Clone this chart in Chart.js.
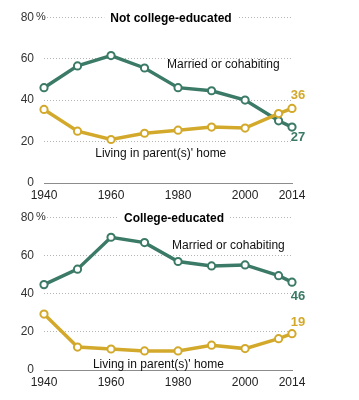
<!DOCTYPE html>
<html>
<head>
<meta charset="utf-8">
<script src="https://cdn.jsdelivr.net/npm/chart.js@4/dist/chart.umd.min.js"></script>
<style>
  html, body { margin: 0; padding: 0; background: #fff; }
  .wrap { width: 359px; height: 400px; position: relative; }
  .box { width: 359px; position: absolute; left: 0; }
  #box-top { top: 0; height: 206px; z-index: 2; }
  #box-bottom { top: 200px; height: 200px; z-index: 1; }
</style>
</head>
<body>
<div class="wrap">
  <div class="box" id="box-top"><canvas id="chart-top"></canvas></div>
  <div class="box" id="box-bottom"><canvas id="chart-bottom"></canvas></div>
</div>
<script>
// years and values
const years = [1940, 1950, 1960, 1970, 1980, 1990, 2000, 2010, 2014];
const xTicks = [1940, 1960, 1980, 2000, 2014];
const yTicks = [0, 20, 40, 60, 80];

const noCollegeMarried = [46, 56.5, 61.5, 55.5, 46, 44.5, 40, 30, 27];
const noCollegeParents = [35.5, 25, 21, 24, 25.5, 27, 26.5, 33.5, 36];
const collegeMarried = [44.7, 52.8, 69.5, 66.7, 56.8, 54.5, 55, 49.4, 46];
const collegeParents = [29.3, 12, 11, 10, 10, 13, 11.2, 16.4, 19];

const GREEN = '#3b7a66';
const GOLD = '#d3a92c';
const FONT = '"Liberation Sans", Arial, sans-serif';

function pts(vals) {
    return years.map((y, i) => ({ x: y, y: vals[i] }));
}

function serie(vals, color) {
    return {
        data: pts(vals),
        borderColor: color,
        borderWidth: 3.5,
        pointRadius: 3.6,
        pointBorderWidth: 2,
        pointBackgroundColor: '#fff',
        pointBorderColor: color,
        tension: 0,
        clip: false
    };
}

// draws title, line labels, end values and the % after 80
const textos = {
    id: 'textos',
    afterDraw(chart, args, opts) {
        const ctx = chart.ctx;
        const xs = chart.scales.x;
        const ys = chart.scales.y;
        ctx.save();
        ctx.textBaseline = 'middle';

        // titulo con fondo blanco sobre la linea de 80
        ctx.font = 'bold 12px ' + FONT;
        const yTit = ys.getPixelForValue(80);
        const w = ctx.measureText(opts.titulo).width;
        const cx = opts.tituloX;
        ctx.fillStyle = '#fff';
        ctx.fillRect(cx - w / 2 - 6, yTit - 3, w + 12, 6);
        ctx.fillStyle = '#000';
        ctx.textAlign = 'center';
        ctx.fillText(opts.titulo, cx, yTit + 1);

        // % pequeno junto al 80
        ctx.font = '11px ' + FONT;
        ctx.fillStyle = '#333';
        ctx.textAlign = 'left';
        ctx.fillText('%', xs.left - 8, yTit);

        // etiquetas de series
        ctx.font = '12px ' + FONT;
        ctx.fillStyle = '#111';
        opts.etiquetas.forEach(e => {
            ctx.fillText(e.texto, xs.getPixelForValue(e.x), ys.getPixelForValue(e.y));
        });

        // valores finales
        ctx.font = 'bold 13px ' + FONT;
        ctx.textAlign = 'center';
        opts.finales.forEach(f => {
            const px = xs.getPixelForValue(2014) + 6;
            const py = ys.getPixelForValue(f.valor) + f.dy;
            ctx.fillStyle = f.color;
            ctx.fillText(String(Math.round(f.valor)), px, py);
        });
        ctx.restore();
    }
};

function crearGrafica(id, married, parents, xAxisHeight, plug) {
    const ctx = document.getElementById(id).getContext('2d');
    return new Chart(ctx, {
        type: 'line',
        data: {
            datasets: [serie(parents, GOLD), serie(married, GREEN)]
        },
        options: {
            responsive: true,
            maintainAspectRatio: false,
            animation: false,
            events: [],
            layout: { padding: { top: 15, right: 67, left: 0, bottom: 0 } },
            plugins: {
                legend: { display: false },
                tooltip: { enabled: false },
                textos: plug
            },
            scales: {
                x: {
                    type: 'linear',
                    min: 1940,
                    max: 2014,
                    afterBuildTicks: s => { s.ticks = xTicks.map(v => ({ value: v })); },
                    afterFit: s => { s.height = xAxisHeight; },
                    grid: { display: false, drawTicks: false },
                    border: { display: true, color: '#8c8c8c', width: 1 },
                    ticks: {
                        color: '#222',
                        font: { family: FONT, size: 12 },
                        padding: 5,
                        maxRotation: 0,
                        autoSkip: false,
                        callback: v => String(v)
                    }
                },
                y: {
                    min: 0,
                    max: 80,
                    afterBuildTicks: s => { s.ticks = yTicks.map(v => ({ value: v })); },
                    afterFit: s => { s.width = 44; },
                    grid: {
                        drawTicks: false,
                        color: c => (c.tick && c.tick.value === 0) ? 'rgba(0,0,0,0)' : '#b5b5b5',
                        lineWidth: 1
                    },
                    border: { display: false, dash: [1, 2] },
                    ticks: {
                        color: '#333',
                        font: { family: FONT, size: 12 },
                        padding: 10
                    }
                }
            }
        },
        plugins: [textos]
    });
}

crearGrafica('chart-top', noCollegeMarried, noCollegeParents, 23, {
    titulo: 'Not college-educated',
    tituloX: 171,
    etiquetas: [
        { texto: 'Married or cohabiting', x: 1976.7, y: 57 },
        { texto: "Living in parent(s)' home", x: 1955.3, y: 14 }
    ],
    finales: [
        { valor: 36.3, color: GOLD, dy: -12 },
        { valor: 27.3, color: GREEN, dy: 11 }
    ]
});

crearGrafica('chart-bottom', collegeMarried, collegeParents, 30, {
    titulo: 'College-educated',
    tituloX: 174,
    etiquetas: [
        { texto: 'Married or cohabiting', x: 1978.2, y: 65 },
        { texto: "Living in parent(s)' home", x: 1954.6, y: 3 }
    ],
    finales: [
        { valor: 46.3, color: GREEN, dy: 15 },
        { valor: 18.9, color: GOLD, dy: -11 }
    ]
});
</script>
</body>
</html>
